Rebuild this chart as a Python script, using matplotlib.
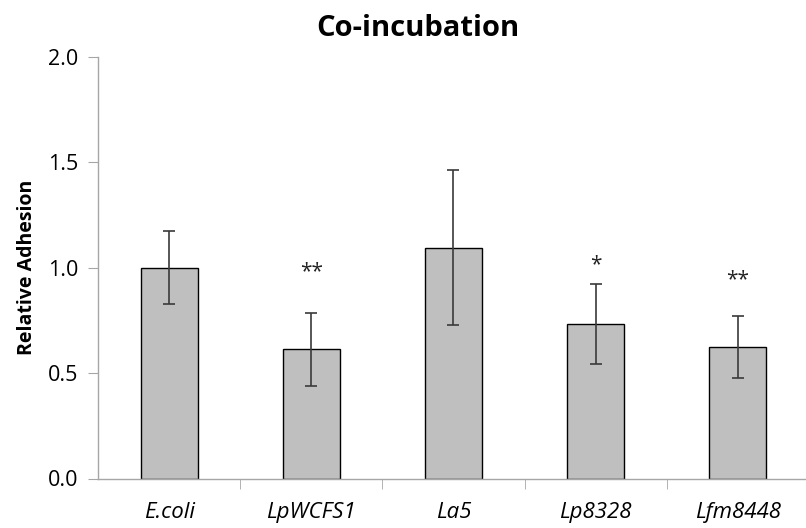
import numpy as np
import matplotlib
matplotlib.use('Agg')
matplotlib.rc('font', family=['Open Sans', 'DejaVu Sans'])
import matplotlib.pyplot as plt

strains = ['E.coli', 'LpWCFS1', 'La5', 'Lp8328', 'Lfm8448']
adhesion = [1.00, 0.613, 1.095, 0.735, 0.625]
adhesion_err = [0.173, 0.173, 0.368, 0.19, 0.146]
significance = ['', '**', '', '*', '**']
star_height = [None, 0.98, None, 1.013, 0.945]


def main():
    fig = plt.figure(figsize=(8.06, 5.28), dpi=100)
    ax = fig.add_axes([98 / 806, 49.5 / 528, 708 / 806, 421.5 / 528])

    x = np.arange(len(strains))
    ax.bar(x, adhesion, width=0.4, color='#BFBFBF', edgecolor='black',
           linewidth=1.0, zorder=2)
    ax.errorbar(x, adhesion, yerr=adhesion_err, fmt='none', ecolor='#3a3a3a',
                elinewidth=1.2, capsize=4, capthick=1.2, zorder=3)

    for xi, s, h in zip(x, significance, star_height):
        if s:
            ax.text(xi, h, s, ha='center', va='center', fontsize=15,
                    color='#222222')

    ax.set_ylim(0, 2.0)
    ax.set_xlim(-0.5, 4.48)
    ax.set_yticks(np.arange(0, 2.01, 0.5))
    ax.set_yticklabels(['%.1f' % v for v in np.arange(0, 2.01, 0.5)])

    # category labels at the centres, tick marks at the boundaries
    ax.set_xticks(x)
    ax.set_xticklabels(strains, style='italic', fontsize=16)
    ax.set_xticks(np.arange(0.5, len(strains) - 0.5, 1.0), minor=True)
    ax.tick_params(axis='x', which='major', length=0, pad=17)
    ax.tick_params(axis='x', which='minor', length=7, color='#A6A6A6',
                   direction='out')
    ax.tick_params(axis='y', length=7, color='#A6A6A6', labelsize=15.5,
                   pad=7)

    for side in ['top', 'right']:
        ax.spines[side].set_visible(False)
    for side in ['left', 'bottom']:
        ax.spines[side].set_color('#A6A6A6')
        ax.spines[side].set_linewidth(1.0)

    ax.set_ylabel('Relative Adhesion', fontsize=14, fontweight='bold',
                  labelpad=8)
    fig.text(418 / 806, 1 - 28 / 528, 'Co-incubation', ha='center',
             va='center', fontsize=21, fontweight='bold')

    fig.savefig('out.png', dpi=100)


if __name__ == '__main__':
    main()
